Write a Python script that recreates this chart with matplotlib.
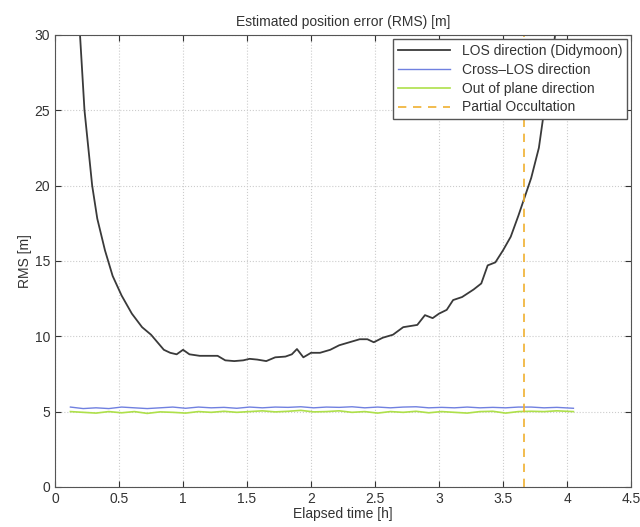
import matplotlib.pyplot as plt

plt.rcParams['font.family'] = ['Liberation Sans', 'DejaVu Sans']

# LOS direction (Didymoon) error
t_los = [0.17, 0.195, 0.23, 0.26, 0.29, 0.33, 0.39, 0.45, 0.52, 0.6, 0.68, 0.75, 0.8, 0.85,
         0.9, 0.95, 1.0, 1.05, 1.13, 1.2, 1.27, 1.33, 1.4, 1.47, 1.52, 1.58, 1.65, 1.72,
         1.8, 1.85, 1.89, 1.94, 2.0, 2.07, 2.15, 2.22, 2.3, 2.38, 2.44, 2.49, 2.56, 2.64,
         2.72, 2.83, 2.89, 2.95, 3.0, 3.06, 3.11, 3.18, 3.27, 3.33, 3.38, 3.44, 3.5, 3.56,
         3.62, 3.66, 3.72, 3.78, 3.83, 3.88, 3.92]
rms_los = [34.0, 30.0, 25.0, 22.5, 20.0, 17.8, 15.7, 14.0, 12.7, 11.5, 10.6, 10.1, 9.6, 9.1,
           8.9, 8.8, 9.1, 8.8, 8.7, 8.7, 8.7, 8.4, 8.35, 8.4, 8.5, 8.45, 8.35, 8.6,
           8.65, 8.8, 9.15, 8.6, 8.9, 8.9, 9.1, 9.4, 9.6, 9.8, 9.8, 9.6, 9.9, 10.1,
           10.6, 10.75, 11.4, 11.2, 11.5, 11.75, 12.4, 12.6, 13.1, 13.5, 14.7, 14.9, 15.7, 16.6,
           18.0, 19.0, 20.5, 22.5, 25.5, 28.0, 31.0]

# Cross-LOS and out-of-plane errors
t_flat = [0.12, 0.22, 0.32, 0.42, 0.52, 0.62, 0.72, 0.82, 0.92, 1.02, 1.12, 1.22, 1.32,
          1.42, 1.52, 1.62, 1.72, 1.82, 1.92, 2.02, 2.12, 2.22, 2.32, 2.42, 2.52, 2.62,
          2.72, 2.82, 2.92, 3.02, 3.12, 3.22, 3.32, 3.42, 3.52, 3.62, 3.72, 3.82, 3.92, 4.05]
rms_cross = [5.3, 5.2, 5.25, 5.2, 5.3, 5.25, 5.2, 5.25, 5.3, 5.22, 5.3, 5.25, 5.28,
             5.22, 5.3, 5.25, 5.3, 5.28, 5.32, 5.25, 5.3, 5.28, 5.32, 5.25, 5.3, 5.25,
             5.3, 5.32, 5.25, 5.28, 5.25, 5.3, 5.25, 5.28, 5.25, 5.3, 5.3, 5.25, 5.28, 5.22]
rms_out = [5.0, 4.95, 4.9, 5.0, 4.92, 5.0, 4.88, 4.98, 4.95, 4.9, 5.0, 4.95, 5.02,
           4.95, 5.0, 5.05, 4.98, 5.02, 5.08, 4.98, 5.0, 5.05, 4.95, 5.0, 4.9, 5.0,
           4.95, 5.02, 4.92, 5.0, 4.95, 4.9, 5.0, 5.02, 4.9, 5.0, 5.02, 5.0, 5.05, 5.0]

t_occ = 3.66

fig = plt.figure(figsize=(6.4, 5.27), dpi=100)
ax = fig.add_axes([0.086, 0.076, 0.9, 0.858])

ax.plot(t_los, rms_los, color='#3a3a3a', lw=1.3, label='LOS direction (Didymoon)')
ax.plot(t_flat, rms_cross, color='#7080e0', lw=1.0, label='Cross\u2013LOS direction')
ax.plot(t_flat, rms_out, color='#aee04a', lw=1.2, label='Out of plane direction')
ax.axvline(t_occ, color='#f0b030', ls='--', lw=1.2, dashes=(5, 4), label='Partial Occultation')

ax.set_xlim(0, 4.5)
ax.set_ylim(0, 30)
ax.set_xticks([0, 0.5, 1, 1.5, 2, 2.5, 3, 3.5, 4, 4.5])
ax.set_xticklabels(['0', '0.5', '1', '1.5', '2', '2.5', '3', '3.5', '4', '4.5'])
ax.set_yticks([0, 5, 10, 15, 20, 25, 30])
ax.grid(True, ls=':', color='#cccccc', lw=0.8)
ax.tick_params(direction='in', labelsize=10, colors='#333333', length=4, top=True, right=True)
for s in ax.spines.values():
    s.set_color('#555555')

ax.set_title('Estimated position error (RMS) [m]', fontsize=10, color='#333333')
ax.set_xlabel('Elapsed time [h]', fontsize=10, color='#333333', labelpad=1)
ax.set_ylabel('RMS [m]', fontsize=10, color='#333333', labelpad=2)

leg = ax.legend(loc='upper right', fontsize=10, fancybox=False, framealpha=1,
                borderaxespad=0.3, handlelength=3.8, labelspacing=0.35, borderpad=0.35)
leg.get_frame().set_edgecolor('#555555')
for txt in leg.get_texts():
    txt.set_color('#333333')

fig.savefig('out.png', dpi=100)
